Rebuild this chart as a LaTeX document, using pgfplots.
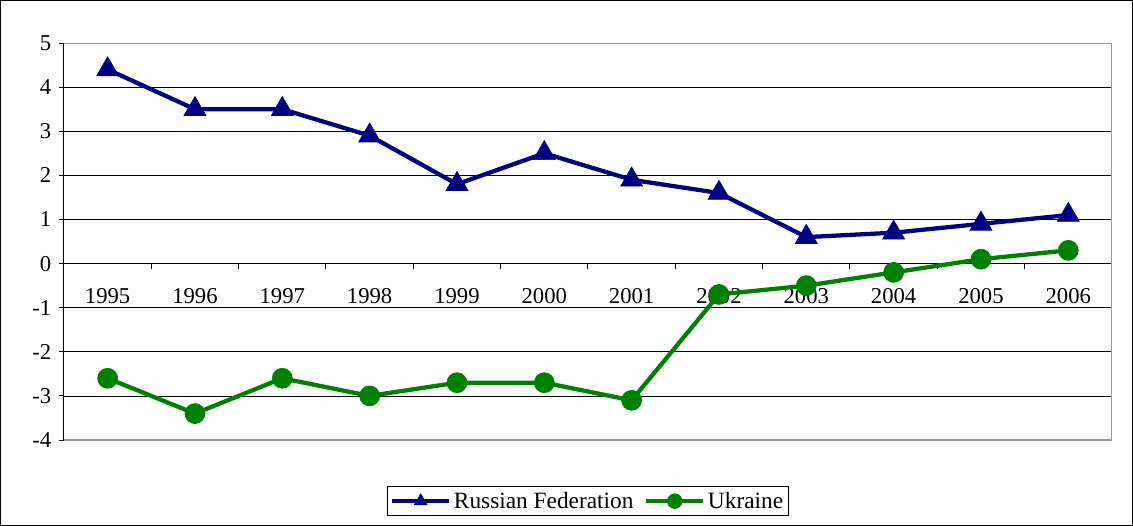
\documentclass[border=0pt]{standalone}
\usepackage{fontspec}
\setmainfont{Liberation Serif}
\usepackage{pgfplots}
\pgfplotsset{compat=1.18}
\definecolor{rfblue}{RGB}{0,0,128}
\definecolor{uagreen}{RGB}{0,128,0}
\begin{document}
\begin{tikzpicture}
\begin{axis}[
  scale only axis, width=786pt, height=297.75pt,
  xmin=-0.5, xmax=11.5, ymin=-4, ymax=5,
  axis x line*=middle, axis y line*=left,
  axis line style={black, line width=0.75pt},
  ytick={-4,-3,...,5},
  /pgf/number format/assume math mode=true,
  ymajorgrids, grid style={black, line width=0.6pt},
  xtick={0.5,1.5,...,10.5}, xticklabels={},
  extra x ticks={0,1,...,11},
  extra x tick labels={1995,1996,1997,1998,1999,2000,2001,2002,2003,2004,2005,2006},
  extra x tick style={major tick length=0pt, xticklabel style={yshift=-15pt}},
  tick align=outside, major tick length=4pt,
  tick style={black, line width=0.75pt},
  tick label style={font=\rmfamily\fontsize{17}{19}\selectfont},
  yticklabel style={xshift=-2pt},
  legend style={at={(0.5,-0.154)}, anchor=center, legend columns=2,
    draw=black, line width=0.6pt, font=\rmfamily\fontsize{17.5}{19}\selectfont,
    inner sep=2pt,
    /tikz/every even column/.append style={column sep=6pt}},
  legend image code/.code={\draw[mark repeat=2, mark phase=2, mark size=5.5pt]
     plot coordinates {(0cm,0cm) (0.75cm,0cm) (1.5cm,0cm)};},
]
\addplot[rfblue, line width=3.2pt, mark=triangle*, mark size=9.5pt,
  mark options={solid, line width=0.5pt}] coordinates {
  (0,4.4) (1,3.5) (2,3.5) (3,2.9) (4,1.8) (5,2.5)
  (6,1.9) (7,1.6) (8,0.6) (9,0.7) (10,0.9) (11,1.1)};
\addlegendentry{Russian Federation}
\addplot[uagreen, line width=3.2pt, mark=*, mark size=7.5pt,
  mark options={solid, line width=0.5pt}] coordinates {
  (0,-2.6) (1,-3.4) (2,-2.6) (3,-3.0) (4,-2.7) (5,-2.7)
  (6,-3.1) (7,-0.7) (8,-0.5) (9,-0.2) (10,0.1) (11,0.3)};
\addlegendentry{Ukraine}
\draw[gray!80, line width=1.5pt] (rel axis cs:0,1) -- (rel axis cs:1,1) -- (rel axis cs:1,0);
\draw[gray!80, line width=1pt] (rel axis cs:0,0) -- (rel axis cs:1,0);
\end{axis}
\draw[black, line width=0.75pt]
  ([shift={(-47.6pt,-64.1pt)}]current axis.south west) rectangle
  ([shift={(15.4pt,31.9pt)}]current axis.north east);
\end{tikzpicture}
\end{document}
